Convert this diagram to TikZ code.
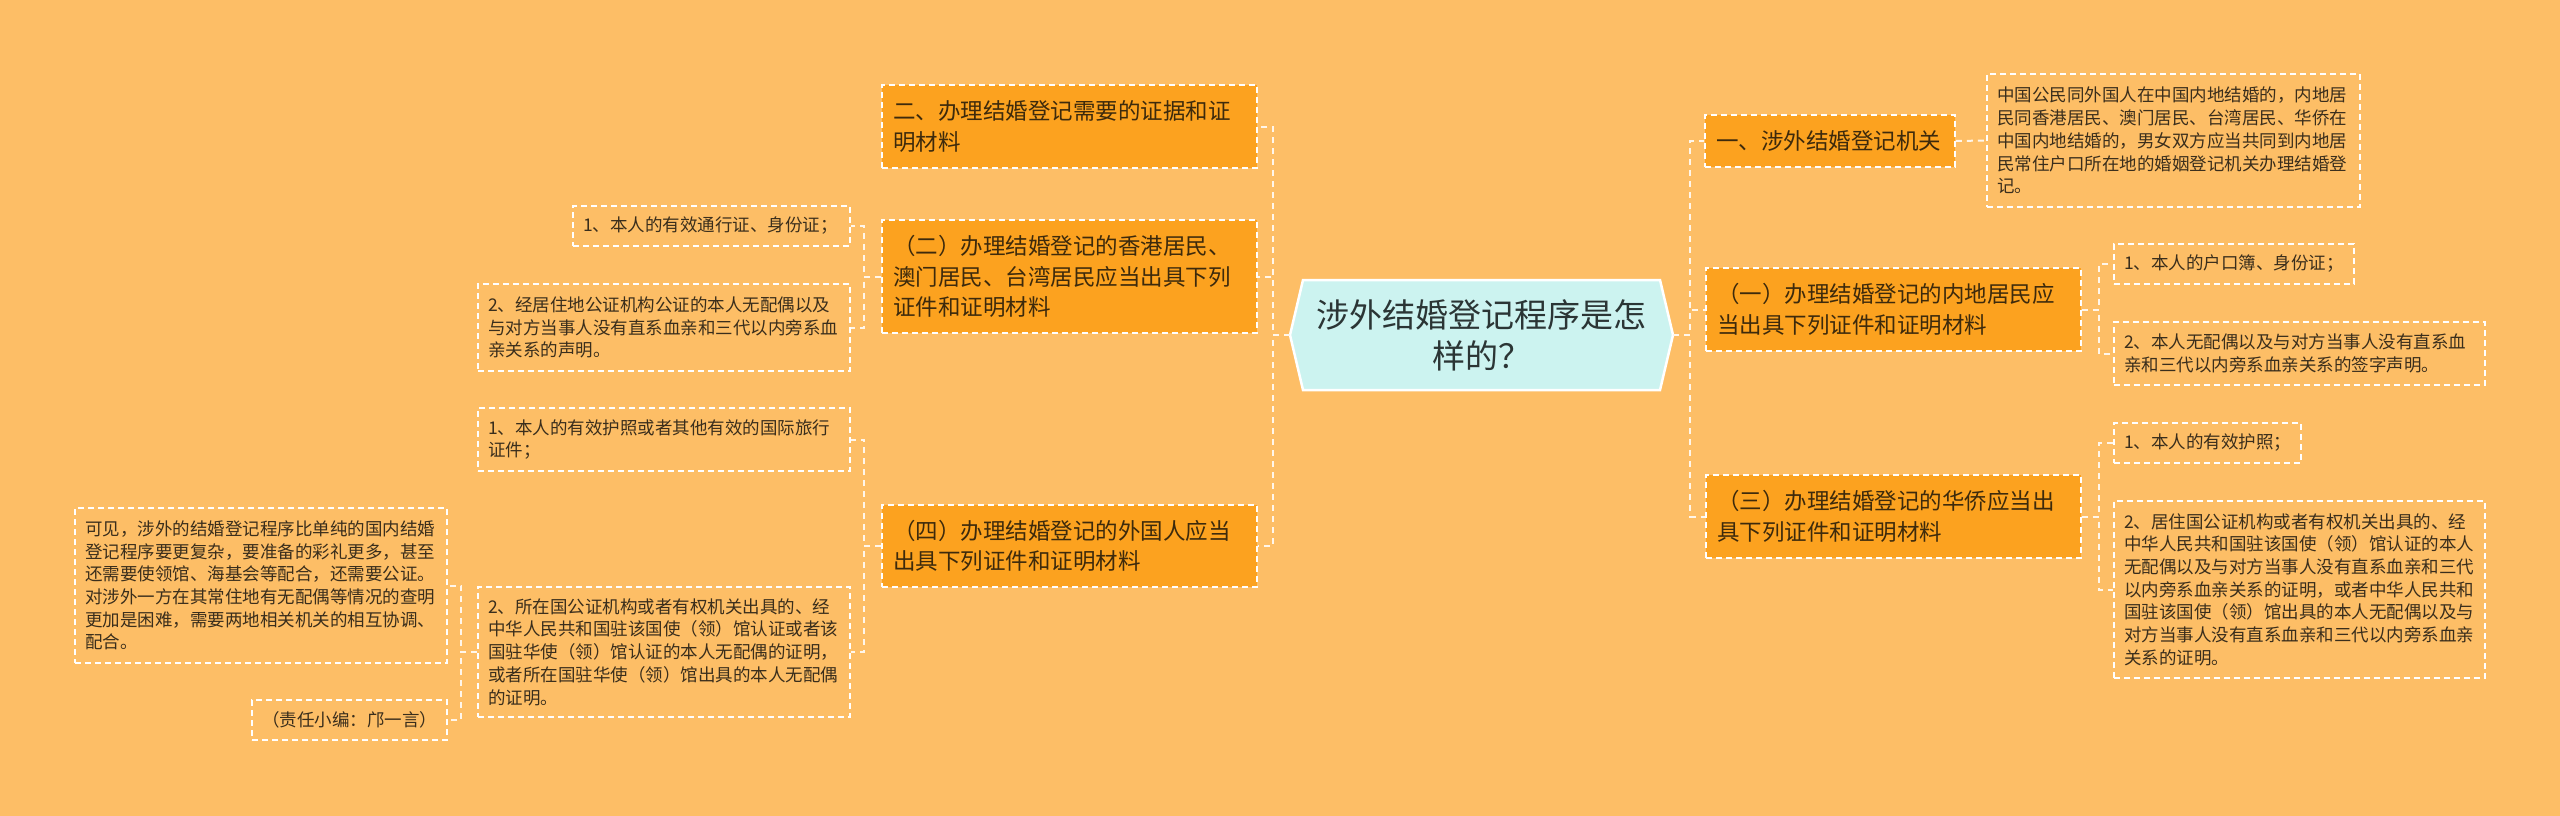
\documentclass[tikz,border=0pt]{standalone}
\usepackage{fontspec}
\setmainfont{Noto Sans CJK SC}
\definecolor{bgc}{HTML}{FDBE66}
\definecolor{obox}{HTML}{FCA21F}
\definecolor{otext}{HTML}{3D2A0C}
\definecolor{ltext}{HTML}{3A2E1C}
\definecolor{cfill}{HTML}{CCF3F0}
\definecolor{ctext}{HTML}{2B3535}
\definecolor{cline}{HTML}{FFF6EA}
\begin{document}
\begin{tikzpicture}[x=1pt,y=-1pt,
  box/.style={draw=white, dash pattern=on 6pt off 4pt, line width=1.6pt, inner ysep=0pt, align=left, anchor=center},
  obx/.style={box, fill=obox, text=otext, inner xsep=11pt, font=\fontsize{22.5}{30.5}\selectfont},
  leaf/.style={box, text=ltext, inner xsep=10pt, font=\fontsize{17.5}{22.7}\selectfont},
  conn/.style={draw=cline, dash pattern=on 6pt off 5pt, line width=2pt}]
\fill[bgc] (0,0) rectangle (2560,816);
% center hexagon
\fill[cfill, draw=white, line width=2.5pt] (1290,335) -- (1303,280) -- (1660,280) -- (1673,335) -- (1660,390) -- (1303,390) -- cycle;
\node[minimum width=383pt, minimum height=110pt, inner sep=0pt, align=center, text=ctext, font=\fontsize{33}{41}\selectfont] (c) at (1481.5,335) {涉外结婚登记程序是怎\\样的？};
% left main branches
\node[obx, text width=353pt, minimum height=83pt] (n2) at (1069.5,126.5) {二、办理结婚登记需要的证据和证\\明材料};
\node[obx, text width=353pt, minimum height=113pt] (n2b) at (1069.5,276.5) {（二）办理结婚登记的香港居民、\\澳门居民、台湾居民应当出具下列\\证件和证明材料};
\node[obx, text width=353pt, minimum height=82pt] (n4) at (1069.5,546) {（四）办理结婚登记的外国人应当\\出具下列证件和证明材料};
% left leaves
\node[leaf, text width=257pt, minimum height=40pt] (a1) at (711.5,226) {1、本人的有效通行证、身份证；};
\node[leaf, text width=352pt, minimum height=87pt] (a2) at (664,327.5) {2、经居住地公证机构公证的本人无配偶以及\\与对方当事人没有直系血亲和三代以内旁系血\\亲关系的声明。};
\node[leaf, text width=352pt, minimum height=63pt] (b1) at (664,439.5) {1、本人的有效护照或者其他有效的国际旅行\\证件；};
\node[leaf, text width=352pt, minimum height=130pt] (b2) at (664,652) {2、所在国公证机构或者有权机关出具的、经\\中华人民共和国驻该国使（领）馆认证或者该\\国驻华使（领）馆认证的本人无配偶的证明，\\或者所在国驻华使（领）馆出具的本人无配偶\\的证明。};
\node[leaf, text width=352pt, minimum height=155pt] (d1) at (261,585.5) {可见，涉外的结婚登记程序比单纯的国内结婚\\登记程序要更复杂，要准备的彩礼更多，甚至\\还需要使领馆、海基会等配合，还需要公证。\\对涉外一方在其常住地有无配偶等情况的查明\\更加是困难，需要两地相关机关的相互协调、\\配合。};
\node[leaf, text width=175pt, minimum height=40pt, align=right] (d2) at (349.5,720) {（责任小编：邝一言）};
% right main branches
\node[obx, text width=228pt, minimum height=52pt] (r1) at (1830,141) {一、涉外结婚登记机关};
\node[obx, text width=353pt, minimum height=83pt] (r2) at (1893.5,309.5) {（一）办理结婚登记的内地居民应\\当出具下列证件和证明材料};
\node[obx, text width=353pt, minimum height=83pt] (r3) at (1893.5,516.5) {（三）办理结婚登记的华侨应当出\\具下列证件和证明材料};
% right leaves
\node[leaf, text width=353pt, minimum height=133pt] (r1a) at (2173.5,140.5) {中国公民同外国人在中国内地结婚的，内地居\\民同香港居民、澳门居民、台湾居民、华侨在\\中国内地结婚的，男女双方应当共同到内地居\\民常住户口所在地的婚姻登记机关办理结婚登\\记。};
\node[leaf, text width=220pt, minimum height=40pt] (r2a) at (2234,264) {1、本人的户口簿、身份证；};
\node[leaf, text width=351pt, minimum height=63pt] (r2b) at (2299.5,353.5) {2、本人无配偶以及与对方当事人没有直系血\\亲和三代以内旁系血亲关系的签字声明。};
\node[leaf, text width=167pt, minimum height=40pt] (r3a) at (2207.5,443) {1、本人的有效护照；};
\node[leaf, text width=351pt, minimum height=177pt] (r3b) at (2299.5,589.5) {2、居住国公证机构或者有权机关出具的、经\\中华人民共和国驻该国使（领）馆认证的本人\\无配偶以及与对方当事人没有直系血亲和三代\\以内旁系血亲关系的证明，或者中华人民共和\\国驻该国使（领）馆出具的本人无配偶以及与\\对方当事人没有直系血亲和三代以内旁系血亲\\关系的证明。};
% connectors
\draw[conn] (c.west) -- ++(-17,0) |- (n2.east);
\draw[conn] (c.west) -- ++(-17,0) |- (n2b.east);
\draw[conn] (c.west) -- ++(-17,0) |- (n4.east);
\draw[conn] (n2b.west) -- ++(-17,0) |- (a1.east);
\draw[conn] (n2b.west) -- ++(-17,0) |- (a2.east);
\draw[conn] (n4.west) -- ++(-17,0) |- (b1.east);
\draw[conn] (n4.west) -- ++(-17,0) |- (b2.east);
\draw[conn] (b2.west) -- ++(-16,0) |- (d1.east);
\draw[conn] (b2.west) -- ++(-16,0) |- (d2.east);
\draw[conn] (c.east) -- ++(17,0) |- (r1.west);
\draw[conn] (c.east) -- ++(17,0) |- (r2.west);
\draw[conn] (c.east) -- ++(17,0) |- (r3.west);
\draw[conn] (r1.east) -- (r1a.west);
\draw[conn] (r2.east) -- ++(17,0) |- (r2a.west);
\draw[conn] (r2.east) -- ++(17,0) |- (r2b.west);
\draw[conn] (r3.east) -- ++(17,0) |- (r3a.west);
\draw[conn] (r3.east) -- ++(17,0) |- (r3b.west);
\end{tikzpicture}
\end{document}
